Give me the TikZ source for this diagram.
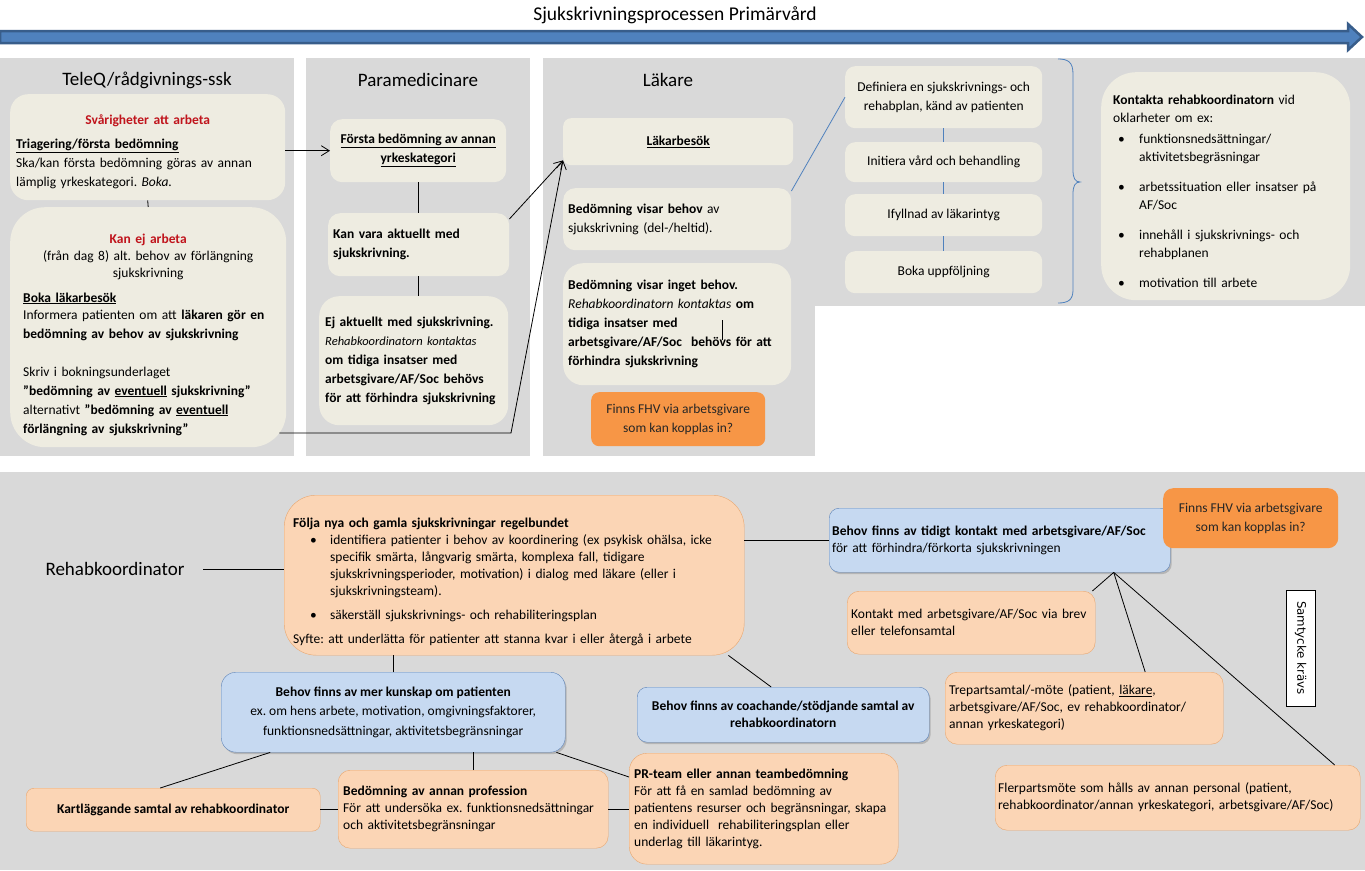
\documentclass[tikz,border=0pt]{standalone}
\usepackage{fontspec}
\setmainfont{Carlito}
\newfontfamily\dejavu{DejaVu Sans}
\usetikzlibrary{arrows.meta,shadows}
\frenchspacing

\definecolor{gra}{HTML}{D9D9D9}
\definecolor{beige}{HTML}{EEECE1}
\definecolor{rod}{HTML}{C0141C}
\definecolor{pilBla}{HTML}{4F81BD}
\definecolor{pilMork}{HTML}{385D8A}
\definecolor{orangeMork}{HTML}{F79646}
\definecolor{ljusOrange}{HTML}{FBD5B5}
\definecolor{orangeKant}{HTML}{E9A66E}
\definecolor{ljusBla}{HTML}{C6D9F1}
\definecolor{blaKant}{HTML}{5F84B8}
\definecolor{textMork}{HTML}{262626}

\newcommand\brod{\fontsize{13.5}{19}\selectfont}
\newcommand\liten{\fontsize{13.5}{17}\selectfont}
\newcommand\rubrik{\fontsize{19}{22}\selectfont}

\begin{document}
\begin{tikzpicture}[x=1pt, y=-1pt, >={Straight Barb[length=8pt,width=10pt]},
    lane/.style={fill=gra},
    ruta/.style={anchor=north west, fill=beige, rounded corners=10, inner sep=5, align=left, font=\brod},
    mitt/.style={align=center},
    orange/.style={anchor=north west, fill=orangeMork, rounded corners=8, align=center, font=\brod, text=textMork},
    ljusruta/.style={anchor=north west, fill=ljusOrange, draw=orangeKant, rounded corners=12, inner sep=5, align=left, font=\liten},
    blaruta/.style={anchor=north west, fill=ljusBla, draw=blaKant, rounded corners=10, align=center, font=\liten,
      drop shadow={shadow xshift=1.5pt, shadow yshift=-2pt, opacity=0.4}},
    linje/.style={draw=black, line width=0.8},
    blalinje/.style={draw=pilBla, line width=0.8},
    pil/.style={->, line width=0.8}]

  \useasboundingbox (0,0) rectangle (1365,870);
  \fill[white] (0,0) rectangle (1365,870);

  % Bakgrund
  \fill[lane] (0,58) rectangle (294,456);
  \fill[lane] (306,58) rectangle (530,456);
  \fill[lane] (543,58) rectangle (815,456);
  \fill[lane] (802,58) rectangle (1365,306);
  \fill[lane] (0,472) rectangle (1365,870);

  % Processpil
  \node[font=\fontsize{19.5}{22}\selectfont] (titel) at (675,15) {Sjukskrivningsprocessen Primärvård};
  \draw[fill=pilBla, draw=pilMork, line width=2.5]
    (0,31) -- (1348,31) -- (1348,24) -- (1362,37) -- (1348,50) -- (1348,43) -- (0,43) -- cycle;

  % Rubriker
  \node[font=\rubrik] (teleq) at (147,80) {TeleQ/rådgivnings-ssk};
  \node[font=\rubrik] (para) at (418,80) {Paramedicinare};
  \node[font=\rubrik] (lak) at (668,80) {Läkare};

  % TeleQ
  \node[ruta, rounded corners=18, minimum width=275, minimum height=106, inner xsep=6, text width=263] (svar) at (10,94) {%
    \mbox{}\\
    \makebox[\linewidth]{\color{rod}\bfseries Svårigheter att arbeta}\\[5pt]
    \textbf{\underline{Triagering/första bedömning}}\\
    Ska/kan första bedömning\ göras av annan\\
    lämplig yrkeskategori. \emph{Boka.}};
  \node[ruta, rounded corners=35, minimum width=276, minimum height=240, inner xsep=13, text width=250] (kanej) at (10,207) {%
    \mbox{}\\[5pt]
    \makebox[\linewidth]{\color{rod}\bfseries Kan ej arbeta}\\[-2pt]
    \makebox[\linewidth]{(från dag 8) alt. behov av förlängning}\\[-2pt]
    \makebox[\linewidth]{sjukskrivning}\\[6pt]
    \textbf{\underline{Boka läkarbesök}}\\[-2pt]
    Informera patienten om att \textbf{läkaren gör en}\\
    \textbf{bedömning av behov av sjukskrivning}\\[19pt]
    Skriv i bokningsunderlaget\\
    \textbf{”bedömning av \underline{eventuell} sjukskrivning”}\\
    alternativt \textbf{”bedömning av \underline{eventuell}}\\
    \textbf{förlängning av sjukskrivning”}};

  % Paramedicinare
  \node[ruta, mitt, rounded corners=12, minimum width=176, minimum height=63] (forsta) at (330,119)
    {\textbf{\underline{Första bedömning av annan}}\\\textbf{\underline{yrkeskategori}}};
  \node[ruta, rounded corners=12, minimum width=181, minimum height=63, text width=171] (kanvara) at (328,213)
    {\textbf{Kan vara aktuellt med}\\\textbf{sjukskrivning.}};
  \node[ruta, rounded corners=20, minimum width=189, minimum height=129, inner xsep=6, text width=177] (ejakt) at (319,296) {%
    \textbf{Ej aktuellt med sjukskrivning.}\\
    {\fontsize{12.5}{19}\selectfont\emph{Rehabkoordinatorn kontaktas}}\\
    \textbf{om tidiga insatser med}\\
    \textbf{arbetsgivare/AF/Soc behövs}\\
    \textbf{för att förhindra sjukskrivning}};

  % Läkare
  \node[ruta, mitt, rounded corners=8, minimum width=230, minimum height=47] (lbesok) at (563,118) {\textbf{\underline{Läkarbesök}}};
  \node[ruta, rounded corners=12, minimum width=228, minimum height=62, text width=218] (behovja) at (563,188)
    {\textbf{Bedömning visar behov} av\\sjukskrivning\ (del-/heltid).};
  \node[ruta, rounded corners=20, minimum width=228, minimum height=122, text width=218] (behovnej) at (563,263) {%
    \textbf{Bedömning visar inget behov.}\\
    \emph{Rehabkoordinatorn kontaktas} \textbf{om}\\
    \textbf{tidiga insatser med}\\
    \textbf{arbetsgivare/AF/Soc\ \ behövs för att}\\
    \textbf{förhindra sjukskrivning}};
  \draw[linje] ([xshift=45,yshift=4]behovnej.center) -- ++(0,20);
  \node[orange, minimum width=174, minimum height=54] (fhvA) at (591,392) {Finns\ FHV via arbetsgivare\\som kan kopplas\ in?};

  % Plan
  \node[ruta, mitt, minimum width=197, minimum height=62] (def) at (845,66) {Definiera en sjukskrivnings- och\\rehabplan, känd av patienten};
  \node[ruta, mitt, minimum width=197, minimum height=40] (init) at (845,142) {Initiera vård och behandling};
  \node[ruta, mitt, minimum width=197, minimum height=42] (ifyll) at (845,194) {Ifyllnad\ av läkarintyg};
  \node[ruta, mitt, minimum width=197, minimum height=42] (boka) at (845,251) {Boka uppföljning};
  \draw[blalinje] (1058,59) .. controls (1068,59) and (1073,62) .. (1073,74) -- (1073,170)
    .. controls (1073,178) and (1075,182) .. (1080,182)
    .. controls (1075,182) and (1073,186) .. (1073,194) -- (1073,290)
    .. controls (1073,300) and (1068,303) .. (1058,303);
  \node[ruta, rounded corners=35, minimum width=249, minimum height=228, inner xsep=12, text width=225,
        font=\fontsize{13.5}{18}\selectfont] (kontakta) at (1101,72) {%
    \mbox{}\\[2pt]
    \textbf{Kontakta rehabkoordinatorn} vid\\
    oklarheter om ex:\\[3pt]
    \hspace*{5pt}\makebox[21pt][l]{\textbullet}funktionsnedsättningar/\\
    \hspace*{26pt}aktivitetsbegräsningar\\[12pt]
    \hspace*{5pt}\makebox[21pt][l]{\textbullet}arbetssituation eller insatser på\\
    \hspace*{26pt}AF/Soc\\[12pt]
    \hspace*{5pt}\makebox[21pt][l]{\textbullet}innehåll i sjukskrivnings- och\\
    \hspace*{26pt}rehabplanen\\[12pt]
    \hspace*{5pt}\makebox[21pt][l]{\textbullet}motivation till arbete};

  % Rehabkoordinator
  \node[font=\rubrik] (rehabtitel) at (115,569) {Rehabkoordinator};
  \node[ljusruta, rounded corners=32, minimum width=460, minimum height=160, inner xsep=9, text width=442] (folja) at (284,495) {%
    \mbox{}\\[5pt]
    \textbf{Följa nya och gamla sjukskrivningar regelbundet}\\
    \hspace*{17pt}\makebox[20pt][l]{\textbullet}identifiera patienter i behov\ av koordinering (ex psykisk ohälsa, icke\\
    \hspace*{37pt}specifik smärta, långvarig smärta, komplexa fall, tidigare\\
    \hspace*{37pt}sjukskrivningsperioder, motivation) i dialog med läkare (eller i\\
    \hspace*{37pt}sjukskrivningsteam).\\[7pt]
    \hspace*{17pt}\makebox[20pt][l]{\textbullet}säkerställ sjukskrivnings- och rehabiliteringsplan\\[7pt]
    Syfte: att underlätta för patienter att stanna kvar i eller återgå i arbete};
  \node[blaruta, align=left, minimum width=341, minimum height=64, inner xsep=3, text width=335] (tidigt) at (829,508)
    {\textbf{Behov finns av tidigt kontakt med arbetsgivare/AF/Soc}\\för att förhindra/förkorta sjukskrivningen};
  \node[orange, rounded corners=10, minimum width=175, minimum height=60] (fhvB) at (1163,488) {Finns\ FHV via arbetsgivare\\som kan kopplas\ in?};
  \node[ljusruta, minimum width=248, minimum height=63, inner xsep=4, text width=240] (kontakt) at (847,591)
    {Kontakt med arbetsgivare/AF/Soc via brev\\eller telefonsamtal};
  \node[ljusruta, minimum width=278, minimum height=72, inner xsep=4, text width=270] (trepart) at (945,672)
    {Trepartsamtal/-möte (patient, \underline{läkare},\\arbetsgivare/AF/Soc, ev rehabkoordinator/\\annan yrkeskategori)};
  \node[ljusruta, minimum width=365, minimum height=65, inner xsep=3, text width=359] (flerpart) at (995,765)
    {Flerpartsmöte som hålls av annan personal (patient,\\rehabkoordinator/annan\ yrkeskategori, arbetsgivare/AF/Soc)};
  \node[draw, fill=white, rotate=-90, minimum width=116, minimum height=29, font=\dejavu\fontsize{11.8}{14}\selectfont] (samtycke) at (1300.5,648) {Samtycke krävs};

  \node[blaruta, rounded corners=15, minimum width=344, minimum height=80, font=\fontsize{13.5}{19.5}\selectfont] (mer) at (221,672)
    {\textbf{Behov finns av mer kunskap om patienten}\\ex. om hens arbete, motivation, omgivningsfaktorer,\\funktionsnedsättningar, aktivitetsbegränsningar};
  \node[blaruta, minimum width=292, minimum height=55] (coach) at (637,687)
    {\textbf{Behov finns av coachande/stödjande samtal av}\\\textbf{rehabkoordinatorn}};
  \node[ljusruta, mitt, rounded corners=8, minimum width=294, minimum height=43] (kartl) at (26,788) {\textbf{Kartläggande samtal av rehabkoordinator}};
  \node[ljusruta, minimum width=270, minimum height=78, text width=260] (annan) at (338,770)
    {\textbf{Bedömning av annan profession}\\För att undersöka ex. funktionsnedsättningar\\och aktivitetsbegränsningar};
  \node[ljusruta, rounded corners=18, minimum width=269, minimum height=111, text width=259] (prteam) at (629,753) {%
    \textbf{PR-team eller annan teambedömning}\\
    För att få en samlad bedömning\ av\\
    patientens resurser och begränsningar, skapa\\
    en individuell\ \ rehabiliteringsplan eller\\
    underlag till läkarintyg.};

  % Kopplingar, övre
  \draw[pil] (svar.east |- forsta.west) -- (forsta.west);
  \draw[linje] (svar.south) -- (kanej.north);
  \coordinate (knick) at (511,433);
  \draw[pil] ([xshift=-7]kanej.east |- knick) -- (knick) -- ([yshift=5]lbesok.south west);
  \draw[pil] ([yshift=-6]kanvara.north east) -- ([yshift=5]lbesok.south west);
  \draw[linje] (forsta.south) -- (forsta.south |- kanvara.north);
  \draw[linje] (kanvara.south) -- (kanvara.south |- ejakt.north);
  \draw[blalinje] ([yshift=-3]behovja.north east) -- (def.west);
  \draw[blalinje] (def) -- (init);
  \draw[blalinje] (init) -- (ifyll);
  \draw[blalinje] (ifyll) -- (boka);

  % Kopplingar, nedre
  \draw[linje] ([xshift=15]rehabtitel.east) -- (folja.west |- rehabtitel.east);
  \draw[linje] (tidigt.west -| folja.east) -- (tidigt.west);
  \coordinate (nav) at ([xshift=114]tidigt.south);
  \draw[linje] (nav) -- ([xshift=-3]kontakt.north east);
  \draw[linje] (nav) -- ([xshift=61]trepart.north);
  \draw[linje] (nav) -- ([xshift=157]flerpart.north);
  \draw[linje] (mer.north) -- (mer.north |- folja.south);
  \draw[linje] ([xshift=-16]folja.south east) -- ([xshift=-12]coach.north);
  \draw[linje] ([xshift=-123]mer.south) -- ([xshift=-13]kartl.north);
  \draw[linje] (annan.north) -- (annan.north |- mer.south);
  \draw[linje] ([xshift=-9]mer.south east) -- ([yshift=-24]prteam.north west);
  \draw[linje] (kartl.east) -- (annan.west |- kartl.east);
  \draw[linje] (annan.east) -- (prteam.west |- annan.east);
\end{tikzpicture}
\end{document}
